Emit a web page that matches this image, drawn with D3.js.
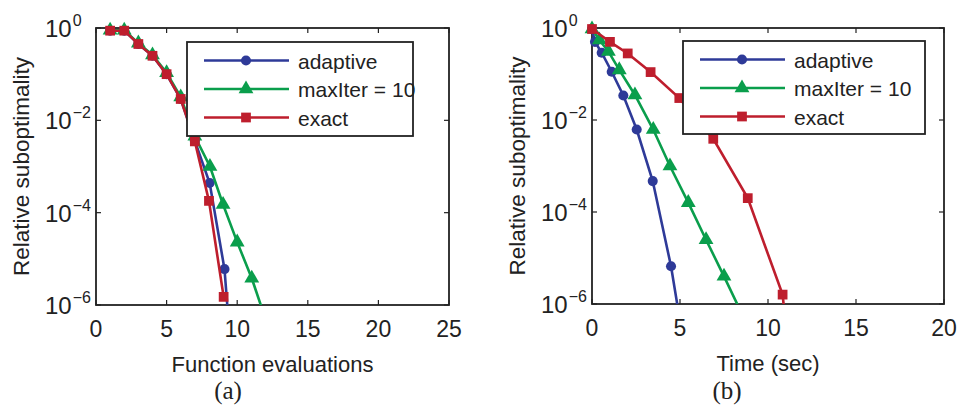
<!DOCTYPE html>
<html>
<head>
<meta charset="utf-8">
<script src="https://cdn.jsdelivr.net/npm/d3@7"></script>
<style>
  body { margin: 0; background: #fff; }
  svg text { font-family: "Liberation Sans", Arial, sans-serif; fill: #222; }
  svg text.caption { font-family: "Liberation Serif", "DejaVu Serif", serif; }
</style>
</head>
<body>
<div id="chart"></div>
<script>
// tick values
var evalTicks = [0, 5, 10, 15, 20, 25];
var timeTicks = [0, 5, 10, 15, 20];
var yTickExps = [0, -2, -4, -6];
var seriesNames = ["adaptive", "maxIter = 10", "exact"];

// (a) function evaluations vs relative suboptimality
var evalAdaptiveX = [1, 2, 3, 4, 5, 6, 7, 8.05, 9.1, 9.6];
var evalAdaptiveY = [0.875, 0.875, 0.45, 0.25, 0.1, 0.029, 3.6e-3, 4.4e-4, 6.0e-6, 6.3e-8];
var evalMaxIterX = [1, 2, 3, 4, 5, 6, 7, 8.07, 9, 10, 11.03, 12];
var evalMaxIterY = [0.89, 0.89, 0.47, 0.26, 0.107, 0.032, 4.5e-3, 1.0e-3, 1.5e-4, 2.3e-5, 3.8e-6, 5e-7];
var evalExactX = [1, 2, 3, 4, 5, 6, 7, 8, 9.04];
var evalExactY = [0.875, 0.875, 0.45, 0.25, 0.1, 0.029, 3.5e-3, 1.8e-4, 1.5e-6];

// (b) time (sec) vs relative suboptimality
var timeAdaptiveX = [0, 0.17, 0.55, 1.12, 1.78, 2.54, 3.45, 4.49, 5.4];
var timeAdaptiveY = [0.95, 0.5, 0.29, 0.112, 0.034, 6.2e-3, 4.7e-4, 6.6e-6, 5e-8];
var timeMaxIterX = [0, 0.42, 0.93, 1.55, 2.44, 3.48, 4.43, 5.47, 6.48, 7.5, 8.5];
var timeMaxIterY = [0.95, 0.55, 0.31, 0.123, 0.035, 6.2e-3, 1.0e-3, 1.6e-4, 2.5e-5, 4.0e-6, 6.3e-7];
var timeExactX = [0, 1.02, 2.03, 3.33, 4.96, 6.89, 8.85, 10.83, 11.3];
var timeExactY = [0.95, 0.5, 0.28, 0.11, 0.03, 3.9e-3, 2.0e-4, 1.6e-6, 3e-8];

var colors = ["#2e3a98", "#0a9e4c", "#be1e2d"];
var shapes = [d3.symbolCircle, d3.symbolTriangle, d3.symbolSquare];
var shapeSizes = [80, 95, 95];

var svg = d3.select("#chart").append("svg")
  .attr("width", 958)
  .attr("height", 406);

svg.append("rect").attr("width", 958).attr("height", 406).attr("fill", "#fff");

function zip(xs, ys) {
  return xs.map(function(x, i) { return {x: x, y: ys[i]}; });
}

function drawPanel(cfg) {
  var g = svg.append("g");
  var x = d3.scaleLinear().domain(cfg.xDomain).range([cfg.left, cfg.right]);
  var y = d3.scaleLog().domain([1e-6, 1]).range([cfg.bottom, cfg.top]);

  var clipId = "clip" + cfg.id;
  svg.append("clipPath").attr("id", clipId)
    .append("rect")
    .attr("x", cfg.left).attr("y", cfg.top)
    .attr("width", cfg.right - cfg.left).attr("height", cfg.bottom - cfg.top);

  // frame
  g.append("rect")
    .attr("x", cfg.left).attr("y", cfg.top)
    .attr("width", cfg.right - cfg.left).attr("height", cfg.bottom - cfg.top)
    .attr("fill", "none").attr("stroke", "#222").attr("stroke-width", 1.8);

  // inward ticks on all four sides
  var tl = 5;
  cfg.xTicks.forEach(function(t) {
    g.append("line").attr("x1", x(t)).attr("x2", x(t))
      .attr("y1", cfg.bottom).attr("y2", cfg.bottom - tl)
      .attr("stroke", "#222").attr("stroke-width", 1.2);
    g.append("line").attr("x1", x(t)).attr("x2", x(t))
      .attr("y1", cfg.top).attr("y2", cfg.top + tl)
      .attr("stroke", "#222").attr("stroke-width", 1.2);
    g.append("text")
      .attr("x", x(t)).attr("y", cfg.bottom + 32)
      .attr("text-anchor", "middle")
      .attr("font-size", "23px")
      .text(t);
  });
  yTickExps.forEach(function(e) {
    var v = Math.pow(10, e);
    g.append("line").attr("x1", cfg.left).attr("x2", cfg.left + tl)
      .attr("y1", y(v)).attr("y2", y(v))
      .attr("stroke", "#222").attr("stroke-width", 1.2);
    g.append("line").attr("x1", cfg.right).attr("x2", cfg.right - tl)
      .attr("y1", y(v)).attr("y2", y(v))
      .attr("stroke", "#222").attr("stroke-width", 1.2);
    var lab = g.append("text")
      .attr("x", cfg.left - 51).attr("y", y(v) + 9)
      .attr("font-size", "24px");
    lab.append("tspan").text("10");
    lab.append("tspan")
      .attr("dx", 1)
      .attr("dy", -11)
      .attr("font-size", "16px")
      .text(e === 0 ? "0" : "\u2212" + Math.abs(e));
  });

  // axis titles
  g.append("text")
    .attr("x", (cfg.left + cfg.right) / 2).attr("y", cfg.bottom + 67)
    .attr("text-anchor", "middle")
    .attr("font-size", "22px")
    .text(cfg.xLabel);
  g.append("text")
    .attr("transform", "translate(" + (cfg.left - 67) + "," + ((cfg.top + cfg.bottom) / 2) + ") rotate(-90)")
    .attr("text-anchor", "middle")
    .attr("font-size", "22.5px")
    .text("Relative suboptimality");
  g.append("text")
    .attr("class", "caption")
    .attr("x", cfg.captionX).attr("y", 399)
    .attr("text-anchor", "middle")
    .attr("font-size", "25px")
    .text(cfg.caption);

  // series
  var line = d3.line().x(function(d) { return x(d.x); }).y(function(d) { return y(d.y); });
  cfg.series.forEach(function(s, i) {
    var pts = zip(s[0], s[1]);
    g.append("path")
      .attr("d", line(pts))
      .attr("clip-path", "url(#" + clipId + ")")
      .attr("fill", "none")
      .attr("stroke", colors[i])
      .attr("stroke-width", 2.6);
    g.selectAll(null)
      .data(pts.filter(function(d) { return d.y >= 1e-6 && d.y <= 1; }))
      .enter()
      .append("path")
      .attr("transform", function(d) { return "translate(" + x(d.x) + "," + y(d.y) + ")"; })
      .attr("d", d3.symbol().type(shapes[i]).size(shapeSizes[i]))
      .attr("fill", colors[i]);
  });

  // legend
  var lg = g.append("g");
  lg.append("rect")
    .attr("x", cfg.legend.x).attr("y", cfg.legend.y)
    .attr("width", cfg.legend.w).attr("height", cfg.legend.h)
    .attr("fill", "#fff").attr("stroke", "#222").attr("stroke-width", 1.8);
  seriesNames.forEach(function(name, i) {
    var ly = cfg.legend.y + 18.5 + i * 28.5;
    lg.append("line")
      .attr("x1", cfg.legend.x + 17).attr("x2", cfg.legend.x + 102)
      .attr("y1", ly).attr("y2", ly)
      .attr("stroke", colors[i]).attr("stroke-width", 2.6);
    lg.append("path")
      .attr("transform", "translate(" + (cfg.legend.x + 59) + "," + ly + ")")
      .attr("d", d3.symbol().type(shapes[i]).size(shapeSizes[i]))
      .attr("fill", colors[i]);
    lg.append("text")
      .attr("x", cfg.legend.x + 111).attr("y", ly + 8)
      .attr("font-size", "21px")
      .text(name);
  });
}

drawPanel({
  id: "a",
  left: 96, right: 449, top: 28, bottom: 305,
  xDomain: [0, 25], xTicks: evalTicks,
  xLabel: "Function evaluations",
  caption: "(a)", captionX: 228,
  legend: {x: 187, y: 42, w: 226, h: 94},
  series: [[evalAdaptiveX, evalAdaptiveY], [evalMaxIterX, evalMaxIterY], [evalExactX, evalExactY]]
});

drawPanel({
  id: "b",
  left: 592, right: 944, top: 28, bottom: 304,
  xDomain: [0, 20], xTicks: timeTicks,
  xLabel: "Time (sec)",
  caption: "(b)", captionX: 727,
  legend: {x: 683, y: 41, w: 242, h: 93},
  series: [[timeAdaptiveX, timeAdaptiveY], [timeMaxIterX, timeMaxIterY], [timeExactX, timeExactY]]
});
</script>
</body>
</html>
